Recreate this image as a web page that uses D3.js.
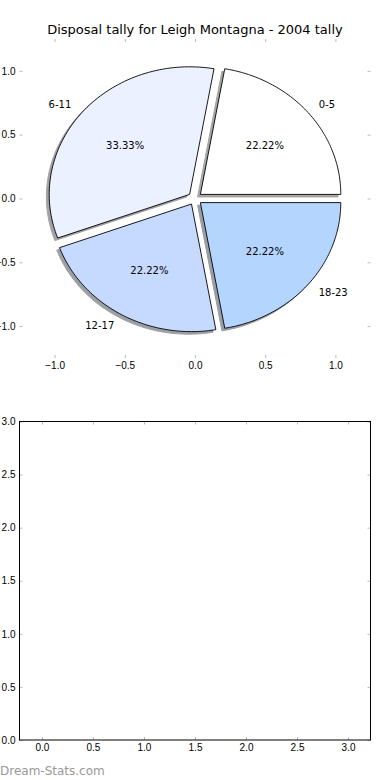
<!DOCTYPE html>
<html>
<head>
<meta charset="utf-8">
<script src="https://cdn.jsdelivr.net/npm/d3@7"></script>
<style>
  body { margin: 0; background: #fff; }
  svg { display: block; font-family: "DejaVu Sans", sans-serif; }
  .tick line { stroke: #bbb; }
  .tick text { fill: #000; font-size: 10px; }
</style>
</head>
<body>
<div id="chart"></div>
<script>
// data
var title = "Disposal tally for Leigh Montagna - 2004 tally";
var labels = ["0-5", "6-11", "12-17", "18-23"];
var counts = [2, 3, 2, 2];
var colors = ["#ffffff", "#ebf1fe", "#c6d9fe", "#b4d5fe"];
var explode = [0.05, 0.05, 0.05, 0.05];
var pieTicks = [-1, -0.5, 0, 0.5, 1];
var emptyTicks = [0, 0.5, 1, 1.5, 2, 2.5, 3];
var watermark = "Dream-Stats.com";

var width = 390, height = 780;
var left = 19.5, right = 370.5;

var svg = d3.select("#chart").append("svg")
    .attr("width", width)
    .attr("height", height);

// ---- pie axes ----
var pieTop = 39, pieBottom = 358;
var x = d3.scaleLinear().domain([-1.25, 1.25]).range([left, right]);
var y = d3.scaleLinear().domain([-1.25, 1.25]).range([pieBottom, pieTop]);

var fmt = d3.format(".1f");

function ticksOn(g, axis) {
  g.call(axis);
  g.select(".domain").remove();
}

var pieG = svg.append("g");

ticksOn(pieG.append("g").attr("transform", "translate(0," + pieBottom + ")"),
  d3.axisBottom(x).tickValues(pieTicks).tickFormat(fmt).tickSize(-3).tickPadding(4));
ticksOn(pieG.append("g").attr("transform", "translate(0," + pieTop + ")"),
  d3.axisTop(x).tickValues(pieTicks).tickFormat("").tickSize(-3));
ticksOn(pieG.append("g").attr("transform", "translate(" + left + ",0)"),
  d3.axisLeft(y).tickValues(pieTicks).tickFormat(fmt).tickSize(-3).tickPadding(4));
ticksOn(pieG.append("g").attr("transform", "translate(" + right + ",0)"),
  d3.axisRight(y).tickValues(pieTicks).tickFormat("").tickSize(-3));

svg.append("text")
    .attr("x", (left + right) / 2)
    .attr("y", 34)
    .attr("text-anchor", "middle")
    .style("font-size", "13px")
    .text(title);

// angles counter-clockwise from east, like matplotlib
var arcs = d3.pie().sort(null).startAngle(0).endAngle(2 * Math.PI)(counts);
var total = d3.sum(counts);

var line = d3.line()
    .x(function (p) { return x(p[0]); })
    .y(function (p) { return y(p[1]); });

function wedge(a, cx, cy) {
  var n = 80;
  var pts = [[cx, cy]];
  d3.range(n + 1).forEach(function (i) {
    var t = a.startAngle + (a.endAngle - a.startAngle) * i / n;
    pts.push([cx + Math.cos(t), cy + Math.sin(t)]);
  });
  return line(pts) + "Z";
}

function centerOf(a, i) {
  var mid = (a.startAngle + a.endAngle) / 2;
  return [explode[i] * Math.cos(mid), explode[i] * Math.sin(mid), mid];
}

// shadows first, all behind the wedges
arcs.forEach(function (a, i) {
  var c = centerOf(a, i);
  var rgb = d3.rgb(colors[i]);
  var dark = d3.rgb(rgb.r * 0.3, rgb.g * 0.3, rgb.b * 0.3);
  pieG.append("path")
      .attr("d", wedge(a, c[0] - 0.02, c[1] - 0.02))
      .attr("fill", dark)
      .attr("stroke", dark)
      .attr("opacity", 0.5);
});

arcs.forEach(function (a, i) {
  var c = centerOf(a, i);
  pieG.append("path")
      .attr("d", wedge(a, c[0], c[1]))
      .attr("fill", colors[i])
      .attr("stroke", "#000")
      .attr("stroke-width", 0.9);

  var lx = c[0] + 1.1 * Math.cos(c[2]);
  var ly = c[1] + 1.1 * Math.sin(c[2]);
  pieG.append("text")
      .attr("x", x(lx))
      .attr("y", y(ly))
      .attr("dy", "0.35em")
      .attr("text-anchor", lx > 0 ? "start" : "end")
      .style("font-size", "10px")
      .text(labels[i]);

  var px = c[0] + 0.6 * Math.cos(c[2]);
  var py = c[1] + 0.6 * Math.sin(c[2]);
  pieG.append("text")
      .attr("x", x(px))
      .attr("y", y(py))
      .attr("dy", "0.35em")
      .attr("text-anchor", "middle")
      .style("font-size", "10px")
      .text(d3.format(".2f")(a.data / total * 100) + "%");
});

// ---- empty lower axes ----
var boxTop = 421.5, boxBottom = 740;
var x2 = d3.scaleLinear().domain([-0.22, 3.22]).range([left, right]);
var y2 = d3.scaleLinear().domain([0, 3]).range([boxBottom, boxTop]);

var boxG = svg.append("g");
ticksOn(boxG.append("g").attr("transform", "translate(0," + boxBottom + ")"),
  d3.axisBottom(x2).tickValues(emptyTicks).tickFormat(fmt).tickSize(-3).tickPadding(4));
ticksOn(boxG.append("g").attr("transform", "translate(0," + boxTop + ")"),
  d3.axisTop(x2).tickValues(emptyTicks).tickFormat("").tickSize(-3));
ticksOn(boxG.append("g").attr("transform", "translate(" + left + ",0)"),
  d3.axisLeft(y2).tickValues(emptyTicks).tickFormat(fmt).tickSize(-3).tickPadding(4));
ticksOn(boxG.append("g").attr("transform", "translate(" + right + ",0)"),
  d3.axisRight(y2).tickValues(emptyTicks).tickFormat("").tickSize(-3));

boxG.append("rect")
    .attr("x", left)
    .attr("y", boxTop)
    .attr("width", right - left)
    .attr("height", boxBottom - boxTop)
    .attr("fill", "none")
    .attr("stroke", "#000")
    .attr("stroke-width", 1);

svg.append("text")
    .attr("x", 0)
    .attr("y", 775)
    .style("font-size", "12px")
    .attr("fill", "#999")
    .text(watermark);
</script>
</body>
</html>
